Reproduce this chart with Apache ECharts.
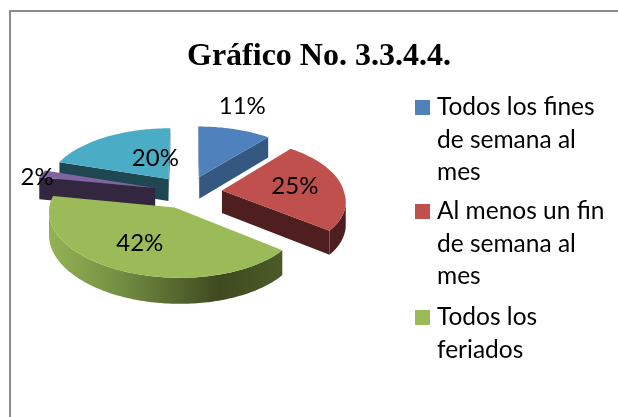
<!DOCTYPE html>
<html><head><meta charset="utf-8">
<style>html,body{margin:0;padding:0;background:#fff}#c{width:618px;height:417px}</style>
<script src="https://cdn.jsdelivr.net/npm/echarts@6/dist/echarts.min.js"></script>
</head><body><div id="c"></div>
<script>
const categories = ['Todos los fines de semana al mes','Al menos un fin de semana al mes','Todos los feriados','Otros A','Otros B'];
const values = [11, 25, 42, 2, 20];
const legendShown = [0, 1, 2];
const legendLines = ['Todos los fines\nde semana al\nmes','Al menos un fin\nde semana al\nmes','Todos los\nferiados'];
const topColors = ['#4f81bd','#c0504d','#9bbb59','#8064a2','#4bacc6'];
const wallColors = ['#34587f','#4e1f1e','#4f5f2b','#33263f','#1e4751'];

// Projection of the tilted pie
const view = {cx:188, cy:192, a:122, b:59, k:0.11, depth:22.5, explode:0.28, skew:7};
const drawOrder = [4,0,3,1,2];
const labelShift = [[43,-71],[73,-4],[-35,36],[-118,-11],[-13,-21]];
const legendTops = [91,195,301];
const lineHeight = 32.5;

const total = values.reduce((s,v)=>s+v,0);
const starts = []; values.reduce((s,v,i)=>(starts[i]=s, s+v),0);
function project(X,Y){const s=1/(1+view.k*Y);return {x:view.cx+view.a*X*s+(Y<0?-Y*view.skew:0),y:view.cy-view.b*Y*s,s};}
function low(p){return [p.x,p.y+view.depth*p.s];}
function up(p){return [p.x,p.y];}

function sliceGeometry(i){
  const t0=starts[i]/total*2*Math.PI, t1=(starts[i]+values[i])/total*2*Math.PI, m=(t0+t1)/2;
  const ox=view.explode*Math.sin(m), oy=view.explode*Math.cos(m);
  const apex=project(ox,oy), arc=[];
  const n=Math.max(6,Math.ceil((t1-t0)/0.02));
  for(let j=0;j<=n;j++){const t=t0+(t1-t0)*j/n;arc.push(project(ox+Math.sin(t),oy+Math.cos(t)));}
  return {apex,arc};
}
function renderSlice(i,api){
  const g=sliceGeometry(i), kids=[], base=drawOrder.indexOf(i)*10, arc=g.arc, last=arc[arc.length-1];
  const wall=(p,q,z)=>kids.push({type:'polygon',z2:base+z,shape:{points:[up(p),up(q),low(q),low(p)]},style:{fill:wallColors[i]}});
  if(arc[0].x<g.apex.x) wall(g.apex,arc[0],1);
  if(g.apex.x<last.x) wall(last,g.apex,1);
  let run=[];
  const flush=()=>{ if(run.length>1){
      const fill = i===2 ? new echarts.graphic.LinearGradient(50,0,285,0,[
        {offset:0,color:'#93b254'},{offset:0.3,color:'#738e42'},{offset:0.72,color:'#3f4a20'},{offset:1,color:'#4c5c28'}],true) : wallColors[i];
      kids.push({type:'polygon',z2:base+2,shape:{points:run.map(up).concat(run.slice().reverse().map(low))},style:{fill}});
    } run=[]; };
  for(let j=0;j<arc.length-1;j++){
    if(arc[j+1].x<arc[j].x){ if(!run.length) run.push(arc[j]); run.push(arc[j+1]); } else flush();
  }
  flush();
  kids.push({type:'polygon',z2:base+3,shape:{points:[up(g.apex)].concat(arc.map(up))},style:{fill:topColors[i]}});
  kids.push({type:'text',z2:200,style:{x:g.apex.x+labelShift[i][0],y:g.apex.y+labelShift[i][1],text:api.value(0)+'%',
    fill:'#000',font:'24px Lato',align:'center',verticalAlign:'middle'}});
  return {type:'group',children:kids};
}

const series = values.map((v,i)=>({
  type:'custom', name: legendShown.includes(i)?legendLines[i]:categories[i],
  coordinateSystem:'none', data:[[v]], silent:true, animation:false,
  itemStyle:{color:topColors[i]},
  renderItem:(p,api)=>renderSlice(i,api)
}));

// Legend swatch sits on the first text line: a taller icon box with the square near its top
function legendIcon(h){ return 'path://M0 0h0.01v0.01h-0.01z M0 9h15v15h-15z M0 '+(h-0.01)+'h0.01v0.01h-0.01z'; }
const legends = legendShown.map((i,n)=>{
  const h = legendLines[i].split('\n').length*lineHeight;
  return {orient:'vertical',left:415,top:legendTops[n],padding:0,itemWidth:15,itemHeight:h,symbolKeepAspect:false,
    icon:legendIcon(h),data:[legendLines[i]],selectedMode:false,
    textStyle:{fontFamily:'Lato',fontSize:24.5,lineHeight,color:'#000',padding:[0,0,0,2]}};
});

const chart = echarts.init(document.getElementById('c'),null,{renderer:'canvas'});
chart.setOption({
  animation:false, backgroundColor:'#fff',
  title:{text:'Gráfico No. 3.3.4.4.',left:182,top:36,textStyle:{fontFamily:'Liberation Serif',fontWeight:'bold',fontSize:32,color:'#000'}},
  legend:legends,
  graphic:[{type:'rect',silent:true,z:-1,shape:{x:10,y:11,width:640,height:440},style:{fill:'#fff',stroke:'#8a8a8a',lineWidth:2}}],
  series
});
</script></body></html>
